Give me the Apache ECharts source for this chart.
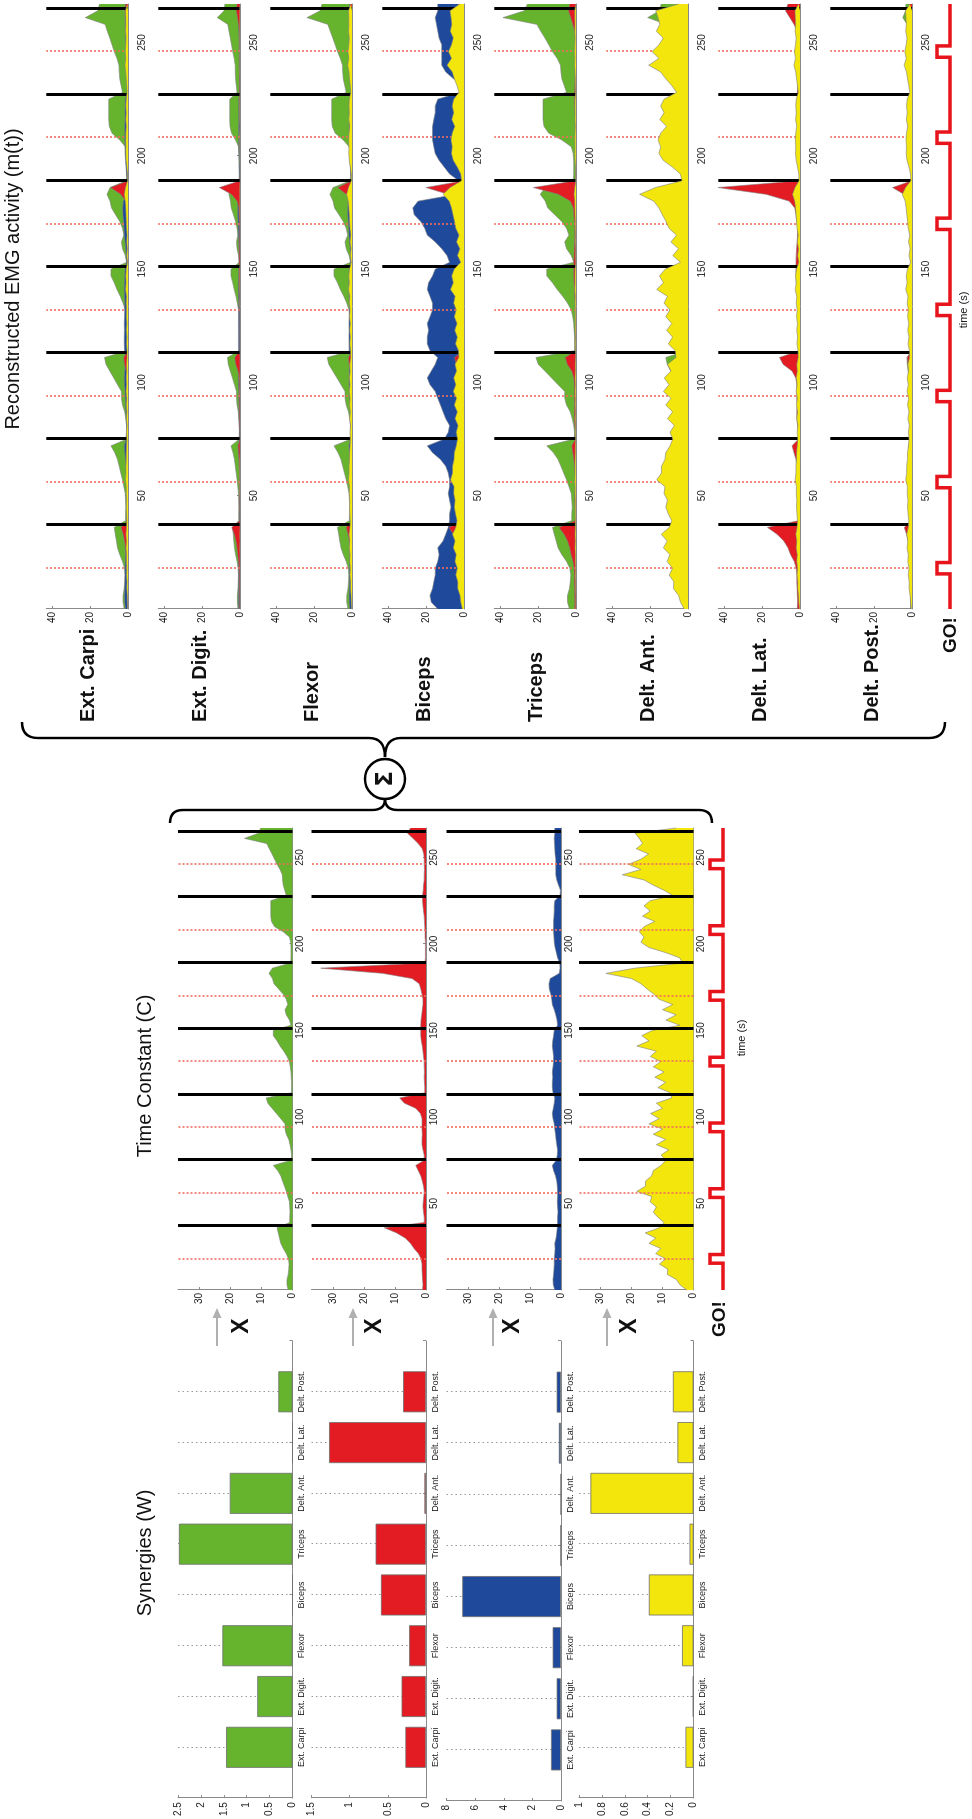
<!DOCTYPE html>
<html><head><meta charset="utf-8">
<script src="https://cdn.jsdelivr.net/npm/echarts@6/dist/echarts.min.js"></script>
<style>
html,body{margin:0;padding:0;width:972px;height:1819px;overflow:hidden;background:#fff;}
#chart{position:absolute;left:0;top:0;width:1819px;height:972px;transform-origin:0 0;transform:translate(0px,1819px) rotate(-90deg);}
</style></head><body><div id="chart"></div>
<script>
// ---------------- DATA ----------------
const muscles = ['Ext. Carpi','Ext. Digit.','Flexor','Biceps','Triceps','Delt. Ant.','Delt. Lat.','Delt. Post.'];
// Synergy weights W (bar heights), one array per synergy
const wGreen  = [1.45, 0.77, 1.53, 0.00, 2.48, 1.37, 0.00, 0.31];
const wRed    = [0.27, 0.32, 0.22, 0.59, 0.66, 0.02, 1.27, 0.30];
const wBlue   = [0.70, 0.30, 0.58, 6.90, 0.02, 0.01, 0.15, 0.30];
const wYellow = [0.07, 0.005, 0.10, 0.39, 0.035, 0.90, 0.14, 0.18];
const barMax = [2.5, 1.5, 8, 1];
const barStep = [0.5, 0.5, 2, 0.2];
// Time constants C(t)
const times = [0,3,6,9,12,15,18,21,24,27,30,33,36,39,42,45,48,51,54,57,60,63,66,69,72,75,78,81,84,87,90,93,96,99,102,105,108,111,114,117,120,123,126,129,132,135,138,141,144,147,150,153,156,159,162,165,168,171,174,177,180,183,186,189,192,195,198,201,204,207,210,213,216,219,222,225,228,231,234,237,240,243,246,249,252,255,258,261,264,267];
const cGreen = [1.4,1.8,1.8,1.4,1.2,1.1,1.3,2.0,3.0,3.8, 4.2,4.6,5.0,0.9,0.9,0.8,0.9,1.0,1.5,2.0, 2.6,3.2,3.8,4.8,6.2,0.4,0.3,0.5,0.8,1.2, 2.0,2.4,2.4,3.8,5.2,6.6,8.0,8.5,0.3,0.3, 0.3,0.4,0.5,0.7,1.0,1.8,2.8,4.0,5.0,6.2, 6.2,0.5,1.0,2.0,2.4,1.5,2.0,3.0,4.5,6.0, 6.5,7.6,6.5,0.6,0.5,0.5,0.5,0.6,1.0,3.0, 5.8,6.8,7.0,7.0,7.0,7.0,2.0,2.5,3.0,3.2, 3.3,4.0,5.0,5.8,6.6,7.5,8.3,15.5,11.0,10.3];
const cRed = [1.1,1.0,1.1,1.2,1.3,1.3,1.6,2.4,3.9,5.0, 6.7,9.5,13.5,0.6,0.6,0.8,1.0,0.9,0.7,0.6, 0.8,1.2,1.7,2.5,3.3,0.6,0.6,1.0,1.3,1.3, 1.2,1.3,1.3,1.3,1.8,3.3,7.0,8.5,0.4,0.4, 0.5,0.6,0.5,0.6,0.6,0.8,1.0,1.2,1.5,1.7, 1.7,1.7,1.6,1.4,1.2,1.0,1.0,1.3,1.7,2.2, 4.5,14.0,34.0,0.3,0.2,0.2,0.2,0.2,0.3,0.3, 0.4,0.5,0.6,0.8,1.0,1.1,1.1,0.9,0.8,0.6, 0.6,0.5,0.6,0.6,0.7,1.2,2.5,4.2,6.0,5.0];
const cBlue = [2.0,2.5,2.6,2.4,2.3,2.2,2.2,2.0,1.9,2.0, 1.6,1.4,1.2,1.1,1.1,1.0,1.1,1.2,1.1,1.1, 1.2,1.4,1.8,2.4,2.8,1.5,1.2,1.1,1.4,1.6, 1.8,2.0,2.2,2.6,2.8,2.5,2.2,2.0,2.6,2.8, 2.8,2.7,2.8,2.6,2.4,2.4,2.6,2.8,2.7,2.4, 2.2,1.1,1.3,1.7,2.2,2.8,3.0,3.3,3.8,3.9, 3.5,0.6,0.3,0.4,1.1,1.5,1.9,2.2,2.3,2.4, 2.4,2.4,2.3,2.2,2.2,2.0,0.3,0.2,0.8,1.4, 1.7,1.7,1.7,1.7,1.9,2.0,2.1,2.2,2.0,2.0];
const cYellow = [2.2,4.4,5.5,8.5,8.3,11.0,9.0,12.2,10.6,14.4, 12.2,15.6,11.0,9.5,11.5,13.0,12.0,14.0,13.5,18.3, 15.5,15.5,13.5,13.0,10.5,8.9,10.5,8.0,12.0,9.0, 13.0,10.0,14.4,11.1,13.9,10.0,12.0,7.0,7.5,11.5, 9.0,12.5,9.5,13.0,10.6,14.0,12.0,18.3,14.4,16.7, 13.3,4.4,8.9,5.6,10.0,6.7,11.1,12.8,15.0,17.0, 20.0,28.3,19.0,3.5,4.5,9.0,14.5,17.0,16.0,17.5, 16.0,12.5,16.5,14.0,16.0,14.0,6.7,9.5,13.0,16.0, 23.0,17.0,21.0,17.0,14.5,18.5,16.5,17.5,18.9,5.6];
const goLines  = [37, 75, 113, 151, 189, 227, 265];   // black solid lines
const cueLines = [18, 56, 94, 132, 170, 208, 246];    // red dotted lines / GO! pulses
const timeMax = 267;

// ---------------- STYLE / LAYOUT ----------------
const FONT = '"Liberation Sans", Arial, Helvetica, sans-serif';
const COL = {green:'#66b32e', red:'#e31b23', blue:'#1f4a9b', yellow:'#f2e60c'};
const synergies = [
  {w: wGreen,  c: cGreen,  color: COL.green},
  {w: wRed,    c: cRed,    color: COL.red},
  {w: wBlue,   c: cBlue,   color: COL.blue},
  {w: wYellow, c: cYellow, color: COL.yellow}
];
const rowTops = [178, 311.5, 446.5, 579];
const rowH = 114.5;
const axLine = {show:true, lineStyle:{color:'#8a8a8a', width:1}};
const axTick = {show:true, inside:true, length:3, lineStyle:{color:'#8a8a8a'}};
const lbl = (o) => Object.assign({color:'#1a1a1a', fontSize:10, fontFamily:FONT}, o||{});

const grids=[], xAxes=[], yAxes=[], series=[];
function addGrid(g, xa, ya){
  grids.push(g); const i = grids.length-1;
  xAxes.push(Object.assign({gridIndex:i}, xa));
  yAxes.push(Object.assign({gridIndex:i}, ya));
  return i;
}
function timeAxis(margin){
  return {type:'value', min:0, max:timeMax, interval:50, axisLine:axLine, axisTick:axTick,
    axisLabel:lbl({margin:margin, showMinLabel:false, showMaxLabel:false}), splitLine:{show:false}};
}
function markerSeries(g){
  return {type:'line', xAxisIndex:g, yAxisIndex:g, data:[[0,0]], symbol:'none', silent:true, z:10,
    lineStyle:{width:0, opacity:0},
    markLine:{symbol:'none', silent:true, animation:false, label:{show:false},
      data: goLines.map(t=>({xAxis:t, lineStyle:{color:'#000', width:3, type:'solid'}}))
        .concat(cueLines.map(t=>({xAxis:t, lineStyle:{color:'#f36b5c', width:1.6, type:[2,2]}})))}};
}
function areaSeries(g, data, color, z){
  return {type:'line', xAxisIndex:g, yAxisIndex:g, data:data, symbol:'none', showSymbol:false, silent:true, z:z,
    lineStyle:{color:'#808080', width:0.6}, areaStyle:{color:color, opacity:1}};
}

// Synergy bar charts (W)
synergies.forEach((s, i) => {
  const g = addGrid({left:18, top:rowTops[i], width:460, height:rowH},
    {type:'value', min:0, max:9, interval:1, axisLine:axLine, axisTick:axTick,
     axisLabel:lbl({fontSize:9, margin:5, formatter:(v)=>muscles[v-1]||''}),
     splitLine:{show:true, showMinLine:false, showMaxLine:false, lineStyle:{color:'#9a9a9a', width:1, type:[1.5,3]}}},
    {type:'value', min:0, max:barMax[i], interval:barStep[i], axisLine:axLine, axisTick:axTick,
     axisLabel:lbl({margin:4}), splitLine:{show:false}});
  series.push({type:'bar', xAxisIndex:g, yAxisIndex:g, barWidth:41, silent:true,
    data: muscles.map((m,k)=>[k+1, s.w[k]]),
    itemStyle:{color:s.color, borderColor:'#6e6e6e', borderWidth:0.8}});
});

// Time constant panels (C)
synergies.forEach((s, i) => {
  const g = addGrid({left:529, top:rowTops[i], width:462, height:rowH}, timeAxis(3),
    {type:'value', min:0, max:37, interval:10, axisLine:axLine, axisTick:axTick,
     axisLabel:lbl({margin:3, showMaxLabel:false}), splitLine:{show:false}});
  series.push(areaSeries(g, times.map((t,k)=>[t, s.c[k]]), s.color, 2));
  series.push(markerSeries(g));
});

// Reconstructed EMG panels m(t) = sum_s W_s * C_s(t), drawn as overlaid areas
const drawOrder = [0, 2, 1, 3]; // green, blue, red, yellow (front)
muscles.forEach((m, mi) => {
  const g = addGrid({left:1210, top:46.3+112*mi, width:605, height:81.7}, timeAxis(9),
    {type:'value', min:0, max:43, interval:20, axisLine:axLine, axisTick:axTick,
     axisLabel:lbl({margin:3, showMaxLabel:false}), splitLine:{show:false}});
  drawOrder.forEach((si, oi) => {
    const s = synergies[si];
    series.push(areaSeries(g, times.map((t,k)=>[t, +(s.w[mi]*s.c[k]).toFixed(3)]), s.color, 2+oi));
  });
  series.push(markerSeries(g));
});

// GO! cue signals
const goPts = [[0,0]];
cueLines.forEach(r => goPts.push([r-2.5,0],[r-2.5,1],[r+2.5,1],[r+2.5,0]));
goPts.push([timeMax,0]);
[[529,462,710],[1210,605,937]].forEach(p => {
  const g = addGrid({left:p[0], top:p[2], width:p[1], height:13},
    {type:'value', min:0, max:timeMax, show:false}, {type:'value', min:0, max:1, show:false});
  series.push({type:'line', xAxisIndex:g, yAxisIndex:g, data:goPts, symbol:'none', silent:true, clip:false,
    lineStyle:{color:'#e8141c', width:3.5, join:'miter'}});
});

// ---------------- GRAPHIC (titles, symbols) ----------------
const txt = (x, y, text, font, align) => ({type:'text', x:x, y:y, silent:true,
  style:{text:text, font:font, fill:'#111', textAlign:align||'center', verticalAlign:'middle'}});
const stroke = {stroke:'#000', lineWidth:2.4, fill:null};
const seg = (x1,y1,x2,y2) => ({type:'line', silent:true, shape:{x1,y1,x2,y2}, style:stroke});
const qcurve = (x1,y1,cx,cy,x2,y2) => ({type:'bezierCurve', silent:true, shape:{x1:x1,y1:y1,cpx1:cx,cpy1:cy,x2:x2,y2:y2}, style:stroke});
function brace(x, y0, y1, yc, dir, tipX, r){
  return [
    qcurve(x+dir*r, y0, x, y0, x, y0+r),
    seg(x, y0+r, x, yc-r),
    qcurve(x, yc-r, x, yc, tipX, yc),
    qcurve(tipX, yc, x, yc, x, yc+r),
    seg(x, yc+r, x, y1-r),
    qcurve(x, y1-r, x, y1, x+dir*r, y1)
  ];
}
const graphic = [
  txt(266, 145, 'Synergies (W)', '20px '+FONT),
  txt(743, 145, 'Time Constant (C)', '20px '+FONT),
  txt(1540, 13, 'Reconstructed EMG activity (m(t))', '20px '+FONT),
  txt(500, 720, 'GO!', 'bold 19px '+FONT),
  txt(1184, 951, 'GO!', 'bold 19px '+FONT),
  txt(781, 742, 'time (s)', '11px '+FONT),
  txt(1509, 964, 'time (s)', '11px '+FONT)
].concat(brace(1081, 22, 945, 385, 1, 1062, 16))
 .concat(brace(1009, 170, 712, 385, -1, 1020, 13))
 .concat([
  {type:'circle', silent:true, shape:{cx:1040, cy:385, r:20}, style:{fill:'#fff', stroke:'#000', lineWidth:2.6}},
  txt(1040, 386, 'Σ', 'bold 23px "DejaVu Sans", sans-serif')
]);
muscles.forEach((m, mi) => graphic.push(txt(1097, 88+112*mi, m, 'bold 20px '+FONT, 'left')));
const arrowY = [217, 353, 493, 607];
const crossY = [242, 375, 513, 630];
arrowY.forEach((y, i) => {
  graphic.push({type:'line', silent:true, shape:{x1:473, y1:y, x2:502, y2:y}, style:{stroke:'#b0b0b0', lineWidth:2}});
  graphic.push({type:'polygon', silent:true, shape:{points:[[511,y],[501,y-4.5],[501,y+4.5]]}, style:{fill:'#b0b0b0'}});
  graphic.push(txt(493, crossY[i], 'X', 'bold 23px '+FONT));
});

const chart = echarts.init(document.getElementById('chart'), null, {renderer:'canvas'});
chart.setOption({animation:false, backgroundColor:'#fff', grid:grids, xAxis:xAxes, yAxis:yAxes, series:series, graphic:graphic});
</script></body></html>
